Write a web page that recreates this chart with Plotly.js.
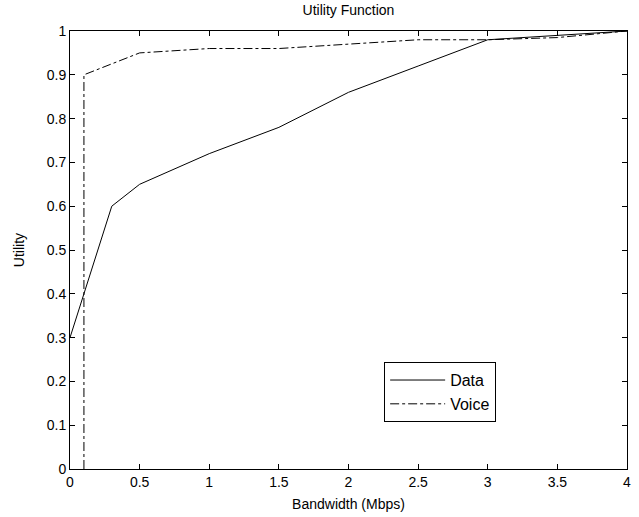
<!DOCTYPE html>
<html>
<head>
<meta charset="utf-8">
<script src="https://cdn.plot.ly/plotly-3.0.1.min.js"></script>
<style>html,body{margin:0;padding:0;background:#fff;}#chart{width:639px;height:517px;}</style>
</head>
<body>
<div id="chart"></div>
<script>
const dataX = [0, 0.3, 0.5, 1, 1.5, 2, 2.5, 3, 4];
const dataY = [0.3, 0.6, 0.65, 0.72, 0.78, 0.86, 0.92, 0.98, 1.0];
const voiceX = [0.1, 0.1, 0.5, 1, 1.5, 2, 2.5, 3, 3.5, 4];
const voiceY = [0, 0.9, 0.95, 0.96, 0.96, 0.97, 0.98, 0.98, 0.985, 1.0];
const xTicks = [0, 0.5, 1, 1.5, 2, 2.5, 3, 3.5, 4];
const xTickText = ['0', '0.5', '1', '1.5', '2', '2.5', '3', '3.5', '4'];
const yTicks = [0, 0.1, 0.2, 0.3, 0.4, 0.5, 0.6, 0.7, 0.8, 0.9, 1];
const yTickText = ['0', '0.1', '0.2', '0.3', '0.4', '0.5', '0.6', '0.7', '0.8', '0.9', '1'];

const font = {family: 'Liberation Sans, Arial, sans-serif', size: 14, color: '#000'};
const traces = [
  {x: dataX, y: dataY, type: 'scatter', mode: 'lines', name: 'Data',
   line: {color: '#000', width: 1, dash: 'solid'}},
  {x: voiceX, y: voiceY, type: 'scatter', mode: 'lines', name: 'Voice',
   line: {color: '#000', width: 1, dash: 'dashdot'}}
];
const axisCommon = {
  showgrid: false, zeroline: false, showline: true, linecolor: '#000', linewidth: 1,
  mirror: 'ticks', ticks: 'inside', ticklen: 5, tickcolor: '#000', tickwidth: 1,
  tickfont: font
};
const layout = {
  width: 639, height: 517,
  margin: {l: 70, r: 12, t: 31, b: 48},
  paper_bgcolor: '#fff', plot_bgcolor: '#fff',
  font: font,
  title: {text: 'Utility Function', font: {family: font.family, size: 14, color: '#000'}, xref: 'paper', x: 0.5, xanchor: 'center', yref: 'container', y: 0.99, yanchor: 'top'},
  xaxis: Object.assign({}, axisCommon, {range: [0, 4], tickvals: xTicks, ticktext: xTickText,
    title: {text: 'Bandwidth (Mbps)', font: font, standoff: 10}}),
  yaxis: Object.assign({}, axisCommon, {range: [0, 1], tickvals: yTicks, ticktext: yTickText,
    title: {text: 'Utility', font: font, standoff: 18}}),
  showlegend: true,
  legend: {x: 0.564, y: 0.244, xanchor: 'left', yanchor: 'top', bgcolor: '#fff',
    bordercolor: '#000', borderwidth: 1, font: {family: font.family, size: 16, color: '#000'},
    tracegroupgap: 0, itemwidth: 55}
};
Plotly.newPlot('chart', traces, layout, {staticPlot: true});
</script>
</body>
</html>
